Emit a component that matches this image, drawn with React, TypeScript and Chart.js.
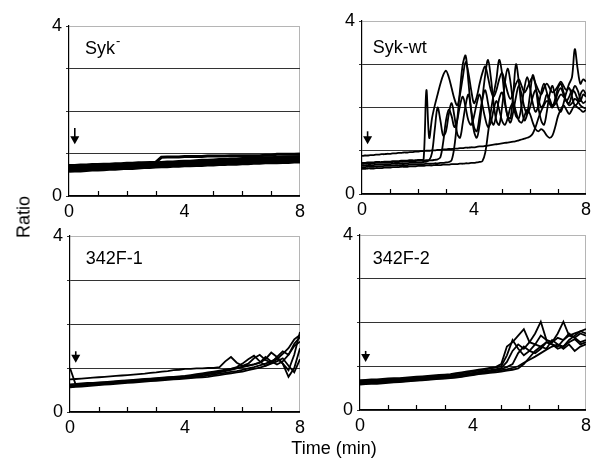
import { useEffect, useRef } from "react";
import { Chart, registerables } from "chart.js";
Chart.register(...registerables);

// ---------- data ----------
const T_FINE = [0,0.1,0.2,0.3,0.4,0.5,0.6,0.7,0.8,0.9,1,1.1,1.2,1.3,1.4,1.5,1.6,1.7,1.8,1.9,2,2.1,2.2,2.3,2.4,2.5,2.6,2.7,2.8,2.9,3,3.1,3.2,3.3,3.4,3.5,3.6,3.7,3.8,3.9,4,4.1,4.2,4.3,4.4,4.5,4.6,4.7,4.8,4.9,5,5.1,5.2,5.3,5.4,5.5,5.6,5.7,5.8,5.9,6,6.1,6.2,6.3,6.4,6.5,6.6,6.7,6.8,6.9,7,7.1,7.2,7.3,7.4,7.5,7.6,7.7,7.8,7.9,8];
const T_COARSE = [0,0.2,0.4,0.6,0.8,1,1.2,1.4,1.6,1.8,2,2.2,2.4,2.6,2.8,3,3.2,3.4,3.6,3.8,4,4.2,4.4,4.6,4.8,5,5.2,5.4,5.6,5.8,6,6.2,6.4,6.6,6.8,7,7.2,7.4,7.6,7.8,8];

// Syk- (coarse grid)
const SYKNEG_A = [0.72,0.72,0.73,0.73,0.74,0.74,0.75,0.75,0.76,0.76,0.77,0.77,0.78,0.78,0.79,0.79,0.91,0.92,0.92,0.92,0.93,0.93,0.93,0.93,0.94,0.94,0.94,0.94,0.95,0.95,0.95,0.95,0.95,0.95,0.96,0.96,0.98,0.98,0.98,0.98,0.99];
const SYKNEG_B = [0.68,0.69,0.69,0.70,0.71,0.71,0.72,0.73,0.73,0.74,0.75,0.75,0.76,0.77,0.77,0.78,0.79,0.80,0.80,0.81,0.82,0.82,0.83,0.84,0.84,0.85,0.86,0.86,0.87,0.87,0.88,0.88,0.89,0.89,0.90,0.90,0.91,0.91,0.92,0.92,0.93];
const SYKNEG_C = [0.64,0.65,0.65,0.66,0.67,0.67,0.68,0.69,0.69,0.70,0.71,0.71,0.72,0.73,0.73,0.74,0.75,0.75,0.76,0.77,0.77,0.78,0.78,0.79,0.79,0.80,0.80,0.81,0.81,0.82,0.82,0.83,0.83,0.84,0.84,0.85,0.85,0.86,0.86,0.87,0.87];
const SYKNEG_D = [0.61,0.62,0.62,0.63,0.64,0.64,0.65,0.66,0.66,0.67,0.68,0.68,0.69,0.70,0.70,0.71,0.72,0.72,0.73,0.73,0.74,0.74,0.75,0.75,0.76,0.76,0.77,0.77,0.78,0.78,0.79,0.79,0.80,0.80,0.81,0.81,0.82,0.82,0.83,0.83,0.84];
const SYKNEG_E = [0.58,0.59,0.59,0.60,0.61,0.61,0.62,0.63,0.63,0.64,0.65,0.65,0.66,0.67,0.67,0.68,0.69,0.69,0.70,0.70,0.71,0.71,0.72,0.72,0.73,0.73,0.74,0.74,0.75,0.75,0.76,0.76,0.77,0.77,0.78,0.78,0.78,0.79,0.79,0.80,0.80];
const SYKNEG_F = [0.66,0.67,0.67,0.68,0.69,0.69,0.70,0.71,0.71,0.72,0.73,0.73,0.74,0.75,0.75,0.76,0.77,0.77,0.78,0.79,0.79,0.80,0.81,0.81,0.82,0.83,0.83,0.84,0.85,0.85,0.86,0.87,0.87,0.88,0.89,0.89,0.90,0.91,0.91,0.92,0.92];

// Syk-wt (fine grid)
const SYKWT_A = [0.88,0.89,0.89,0.90,0.90,0.91,0.91,0.92,0.92,0.93,0.93,0.94,0.94,0.95,0.95,0.96,0.96,0.97,0.97,0.98,0.98,0.99,0.99,1.00,1.00,1.01,1.01,1.02,1.02,1.03,1.03,1.04,1.04,1.05,1.05,1.06,1.06,1.07,1.07,1.08,1.08,1.09,1.10,1.10,1.11,1.12,1.13,1.14,1.15,1.16,1.17,1.18,1.19,1.20,1.21,1.22,1.24,1.26,1.28,1.30,1.33,1.40,1.55,1.75,1.92,2.05,2.15,2.10,2.02,2.08,2.20,2.30,2.25,2.15,2.05,2.10,2.20,2.15,2.05,2.00,1.98];
const SYKWT_B = [0.72,0.72,0.73,0.73,0.73,0.74,0.74,0.74,0.75,0.75,0.75,0.76,0.76,0.76,0.77,0.77,0.77,0.78,0.78,0.78,0.79,0.79,0.80,2.40,1.30,1.75,2.05,2.30,2.55,2.75,2.85,2.70,2.45,2.20,2.05,2.30,2.70,3.05,2.80,2.40,2.10,2.25,2.55,2.80,2.95,2.70,2.40,2.25,2.40,2.65,2.80,2.60,2.35,2.20,2.35,2.55,2.65,2.50,2.35,2.45,2.60,2.70,2.55,2.40,2.30,2.45,2.55,2.45,2.35,2.40,2.50,2.60,2.50,2.40,2.55,2.70,3.35,2.90,2.55,2.65,2.60];
const SYKWT_C = [0.66,0.66,0.67,0.67,0.67,0.68,0.68,0.68,0.69,0.69,0.69,0.70,0.70,0.70,0.71,0.71,0.71,0.72,0.72,0.72,0.73,0.73,0.74,0.75,0.78,0.95,1.50,2.00,1.70,1.35,1.45,1.85,2.10,1.80,1.40,1.30,1.65,2.05,2.30,1.95,1.55,1.45,1.80,2.20,2.40,2.10,1.75,1.60,1.85,2.20,2.35,2.10,1.80,1.65,1.90,2.25,2.50,2.30,2.00,1.85,2.00,2.25,2.40,2.20,2.00,2.10,2.30,2.20,2.05,2.15,2.35,2.45,2.30,2.15,2.25,2.40,2.35,2.20,2.15,2.30,2.25];
const SYKWT_D = [0.62,0.62,0.63,0.63,0.63,0.64,0.64,0.64,0.65,0.65,0.65,0.66,0.66,0.66,0.67,0.67,0.67,0.68,0.68,0.68,0.69,0.69,0.69,0.70,0.70,0.70,0.71,0.71,0.72,0.72,0.73,0.74,0.78,1.10,1.70,2.40,3.00,3.20,2.60,1.90,1.45,1.30,1.60,2.20,2.75,3.10,2.70,2.10,1.70,1.60,2.00,2.55,2.90,2.60,2.10,1.80,1.75,2.05,2.45,2.70,2.45,2.10,1.90,2.05,2.35,2.55,2.35,2.10,2.00,2.20,2.45,2.55,2.35,2.15,2.10,2.30,2.50,2.40,2.20,2.10,2.15];
const SYKWT_E = [0.58,0.58,0.59,0.59,0.59,0.60,0.60,0.60,0.61,0.61,0.61,0.62,0.62,0.62,0.63,0.63,0.63,0.64,0.64,0.64,0.65,0.65,0.65,0.66,0.66,0.66,0.67,0.67,0.67,0.68,0.68,0.68,0.69,0.69,0.69,0.70,0.70,0.71,0.71,0.72,0.72,0.73,0.74,0.76,0.95,1.40,1.90,2.30,2.65,3.10,2.80,2.20,1.80,1.75,2.30,3.00,2.60,2.00,1.70,1.85,2.30,2.75,2.50,2.00,1.70,1.60,1.90,2.30,2.50,2.25,2.00,1.90,2.10,2.35,2.45,2.25,2.05,2.10,2.30,2.40,2.30];
const SYKWT_F = [0.70,0.70,0.71,0.71,0.71,0.72,0.72,0.72,0.73,0.73,0.73,0.74,0.74,0.74,0.75,0.75,0.75,0.76,0.76,0.76,0.77,0.77,0.77,0.78,0.78,0.78,0.79,0.80,0.85,1.20,1.70,1.95,1.80,1.55,1.70,2.05,2.25,2.00,1.70,1.60,1.80,2.10,2.30,2.05,1.75,1.55,1.65,1.95,2.15,1.95,1.70,1.60,1.75,2.00,2.10,1.90,1.70,1.65,1.80,1.95,1.85,1.65,1.50,1.45,1.50,1.45,1.35,1.30,1.35,1.55,1.80,1.95,2.05,1.95,1.85,1.95,2.05,2.00,1.95,1.90,1.95];

// 342F-1 (coarse grid)
const F1_A = [0.74,0.75,0.76,0.77,0.78,0.79,0.80,0.81,0.82,0.83,0.84,0.85,0.86,0.87,0.89,0.90,0.92,0.93,0.95,0.96,0.98,0.98,0.99,0.99,1.00,1.00,1.02,1.15,1.25,1.12,1.05,1.10,1.22,1.30,1.18,1.12,1.20,1.32,1.45,1.65,1.75];
const F1_B = [1.00,0.62,0.63,0.64,0.65,0.66,0.67,0.68,0.69,0.70,0.71,0.72,0.73,0.74,0.75,0.76,0.77,0.78,0.79,0.80,0.81,0.82,0.84,0.86,0.88,0.90,0.92,0.95,0.98,1.02,1.10,1.20,1.28,1.15,1.05,1.12,1.25,1.38,1.30,1.50,1.60];
const F1_C = [0.60,0.61,0.62,0.63,0.64,0.65,0.66,0.67,0.68,0.69,0.70,0.71,0.72,0.73,0.74,0.75,0.76,0.77,0.78,0.79,0.80,0.81,0.82,0.84,0.86,0.88,0.90,0.93,0.96,0.99,1.02,1.05,1.08,1.12,1.20,1.35,1.25,1.10,0.95,1.30,1.82];
const F1_D = [0.58,0.59,0.60,0.61,0.62,0.63,0.64,0.65,0.66,0.67,0.68,0.69,0.70,0.71,0.72,0.73,0.74,0.75,0.76,0.77,0.78,0.79,0.80,0.81,0.83,0.85,0.87,0.89,0.91,0.93,0.96,0.99,1.02,1.06,1.10,1.15,1.22,1.10,0.80,1.00,1.45];
const F1_E = [0.63,0.64,0.65,0.66,0.66,0.67,0.68,0.69,0.70,0.71,0.72,0.73,0.74,0.75,0.76,0.77,0.78,0.79,0.80,0.81,0.82,0.84,0.86,0.88,0.90,0.92,0.94,0.96,0.98,1.00,1.03,1.06,1.08,1.12,1.25,1.15,1.08,1.15,1.30,1.55,1.70];
const F1_F = [0.56,0.57,0.58,0.59,0.60,0.61,0.62,0.63,0.64,0.65,0.66,0.67,0.68,0.69,0.70,0.71,0.72,0.73,0.74,0.75,0.76,0.77,0.78,0.79,0.80,0.82,0.84,0.86,0.88,0.90,0.92,0.95,0.98,1.01,1.05,1.10,1.15,1.22,1.05,0.90,1.20];

// 342F-2 (coarse grid)
const F2_A = [0.68,0.69,0.70,0.70,0.71,0.72,0.73,0.73,0.74,0.75,0.76,0.77,0.78,0.79,0.80,0.81,0.82,0.84,0.86,0.88,0.90,0.92,0.94,0.96,0.98,1.05,1.45,1.55,1.70,1.85,1.55,1.50,1.70,1.60,1.55,1.75,2.02,1.70,1.65,1.75,1.70];
const F2_B = [0.64,0.65,0.66,0.66,0.67,0.68,0.69,0.69,0.70,0.71,0.72,0.73,0.74,0.75,0.76,0.77,0.78,0.79,0.81,0.83,0.85,0.87,0.89,0.91,0.93,0.96,1.10,1.35,1.50,1.40,1.55,1.75,2.02,1.60,1.55,1.65,1.60,1.70,1.75,1.80,1.85];
const F2_C = [0.62,0.63,0.64,0.64,0.65,0.66,0.67,0.67,0.68,0.69,0.70,0.71,0.72,0.73,0.74,0.75,0.76,0.77,0.79,0.81,0.83,0.85,0.87,0.89,0.91,0.94,0.98,1.05,1.30,1.45,1.35,1.30,1.40,1.55,1.50,1.45,1.60,1.75,1.65,1.55,1.60];
const F2_D = [0.60,0.61,0.62,0.62,0.63,0.64,0.65,0.65,0.66,0.67,0.68,0.69,0.70,0.71,0.72,0.73,0.74,0.75,0.77,0.79,0.81,0.83,0.85,0.87,0.89,0.91,0.93,0.96,1.00,1.08,1.15,1.22,1.30,1.38,1.45,1.50,1.45,1.55,1.62,1.50,1.55];
const F2_E = [0.58,0.59,0.60,0.60,0.61,0.62,0.63,0.64,0.65,0.66,0.67,0.68,0.69,0.70,0.71,0.72,0.73,0.74,0.76,0.78,0.80,0.82,0.83,0.85,0.86,0.88,0.90,0.92,0.95,1.05,1.20,1.35,1.45,1.55,1.50,1.40,1.45,1.60,1.70,1.80,1.75];
const F2_F = [0.66,0.67,0.67,0.68,0.69,0.70,0.71,0.71,0.72,0.73,0.74,0.75,0.76,0.77,0.78,0.79,0.80,0.82,0.84,0.86,0.88,0.90,0.92,0.95,0.97,1.00,1.25,1.60,1.40,1.25,1.35,1.50,1.45,1.40,1.60,1.50,1.40,1.50,1.35,1.45,1.50];

const X_TICKS = [0, 4, 8];
const X_MINOR = [1, 2, 3, 5, 6, 7];
const Y_GRID = [0, 1, 2, 3, 4];
const Y_LABELED = [0, 4];
const STIMULUS_T = 0.2; // arrow marks stimulation time

// ---------- layout ----------
const FONT = '"Liberation Sans", Arial, Helvetica, sans-serif';

type PanelCfg = {
  title: string;
  sup?: string;
  times: number[];
  series: number[][];
  box: { left: number; top: number; width: number; height: number };
  plot: { left: number; top: number; right: number; bottom: number };
  arrow: { top: number; tip: number };
  label: { x: number; y: number };
  lw: number;
  tension: number;
};

const PANELS: PanelCfg[] = [
  {
    title: "Syk", sup: "-", times: T_COARSE,
    series: [SYKNEG_A, SYKNEG_B, SYKNEG_C, SYKNEG_D, SYKNEG_E, SYKNEG_F],
    box: { left: 0, top: 8, width: 310, height: 222 },
    plot: { left: 69, top: 26, right: 300, bottom: 196 },
    arrow: { top: 1.6, tip: 1.22 }, label: { x: 0.55, y: 3.45 }, lw: 3, tension: 0,
  },
  {
    title: "Syk-wt", times: T_FINE,
    series: [SYKWT_A, SYKWT_B, SYKWT_C, SYKWT_D, SYKWT_E, SYKWT_F],
    box: { left: 300, top: 3, width: 296, height: 227 },
    plot: { left: 362, top: 21, right: 591, bottom: 194 },
    arrow: { top: 1.45, tip: 1.15 }, label: { x: 0.38, y: 3.38 }, lw: 1.8, tension: 0.35,
  },
  {
    title: "342F-1", times: T_COARSE,
    series: [F1_A, F1_B, F1_C, F1_D, F1_E, F1_F],
    box: { left: 0, top: 218, width: 310, height: 222 },
    plot: { left: 70, top: 236, right: 302, bottom: 412 },
    arrow: { top: 1.38, tip: 1.12 }, label: { x: 0.55, y: 3.47 }, lw: 1.8, tension: 0,
  },
  {
    title: "342F-2", times: T_COARSE,
    series: [F2_A, F2_B, F2_C, F2_D, F2_E, F2_F],
    box: { left: 300, top: 217, width: 296, height: 223 },
    plot: { left: 360, top: 235, right: 591, bottom: 410 },
    arrow: { top: 1.35, tip: 1.1 }, label: { x: 0.45, y: 3.45 }, lw: 1.8, tension: 0,
  },
];

function Panel({ cfg }: { cfg: PanelCfg }) {
  const ref = useRef<HTMLCanvasElement | null>(null);
  useEffect(() => {
    if (!ref.current) return;
    const { box, plot } = cfg;
    const decor = {
      id: "decor",
      afterDatasetsDraw(chart: any) {
        const { ctx, chartArea } = chart;
        const xs = chart.scales.x;
        const ys = chart.scales.y;
        ctx.save();
        // inward minor ticks on x axis
        ctx.strokeStyle = "#000";
        ctx.lineWidth = 1.2;
        for (const v of X_MINOR) {
          const px = Math.round(xs.getPixelForValue(v)) + 0.5;
          ctx.beginPath();
          ctx.moveTo(px, chartArea.bottom);
          ctx.lineTo(px, chartArea.bottom - 5);
          ctx.stroke();
        }
        // stimulus arrow
        const ax = xs.getPixelForValue(STIMULUS_T);
        const ay0 = ys.getPixelForValue(cfg.arrow.top);
        const ay1 = ys.getPixelForValue(cfg.arrow.tip);
        ctx.lineWidth = 1.6;
        ctx.beginPath();
        ctx.moveTo(ax, ay0);
        ctx.lineTo(ax, ay1 - 7);
        ctx.stroke();
        ctx.fillStyle = "#000";
        ctx.beginPath();
        ctx.moveTo(ax - 4.5, ay1 - 8);
        ctx.lineTo(ax + 4.5, ay1 - 8);
        ctx.lineTo(ax, ay1);
        ctx.closePath();
        ctx.fill();
        // panel title
        ctx.font = `18px ${FONT}`;
        ctx.textBaseline = "middle";
        ctx.textAlign = "left";
        const lx = xs.getPixelForValue(cfg.label.x);
        const ly = ys.getPixelForValue(cfg.label.y);
        ctx.fillText(cfg.title, lx, ly);
        if (cfg.sup) {
          const w = ctx.measureText(cfg.title).width;
          ctx.font = `13px ${FONT}`;
          ctx.fillText(cfg.sup, lx + w + 1, ly - 8);
        }
        ctx.restore();
      },
    };
    const chart = new Chart(ref.current, {
      type: "line",
      data: {
        datasets: cfg.series.map((vals) => ({
          data: vals.map((v, i) => ({ x: cfg.times[i], y: v })),
          borderColor: "#000",
          borderWidth: cfg.lw,
          pointRadius: 0,
          tension: cfg.tension,
          fill: false,
        })),
      },
      options: {
        animation: false,
        responsive: false,
        events: [],
        layout: {
          padding: { top: plot.top - box.top, right: box.left + box.width - plot.right, left: 0, bottom: 0 },
        },
        plugins: { legend: { display: false }, tooltip: { enabled: false } },
        scales: {
          x: {
            type: "linear",
            min: 0,
            max: 8,
            afterBuildTicks: (s: any) => { s.ticks = X_TICKS.map((v) => ({ value: v })); },
            afterFit: (s: any) => { s.height = box.top + box.height - plot.bottom; },
            ticks: {
              color: "#000",
              padding: 5,
              font: { family: FONT, size: 18 },
              callback: (v: any) => String(v),
            },
            grid: {
              drawTicks: false,
              color: (c: any) => (c.tick && c.tick.value === 8 ? "#b5b5b5" : "rgba(0,0,0,0)"),
              lineWidth: 1,
            },
            border: { color: "#000", width: 1.2 },
          },
          y: {
            type: "linear",
            min: 0,
            max: 4,
            afterBuildTicks: (s: any) => { s.ticks = Y_GRID.map((v) => ({ value: v })); },
            afterFit: (s: any) => { s.width = plot.left - box.left; },
            ticks: {
              color: "#000",
              padding: 4,
              font: { family: FONT, size: 18 },
              callback: (v: any) => (Y_LABELED.includes(v) ? String(v) : ""),
            },
            grid: {
              drawTicks: true,
              tickLength: 3,
              color: (c: any) => (c.tick && c.tick.value === 4 ? "#b5b5b5" : "#333"),
              tickColor: "#333",
              lineWidth: 1,
            },
            border: { color: "#000", width: 1.2 },
          },
        },
      },
      plugins: [decor],
    });
    return () => chart.destroy();
  }, [cfg]);
  const { box } = cfg;
  return (
    <canvas
      ref={ref}
      width={box.width}
      height={box.height}
      style={{ position: "absolute", left: box.left, top: box.top, width: box.width, height: box.height }}
    />
  );
}

export default function App() {
  return (
    <div style={{ position: "absolute", left: 0, top: 0, width: 596, height: 463, background: "#fff", overflow: "hidden" }}>
      {PANELS.map((p, i) => (
        <Panel key={i} cfg={p} />
      ))}
      <div
        style={{
          position: "absolute", left: 24, top: 217, transform: "translate(-50%, -50%) rotate(-90deg)",
          fontFamily: FONT, fontSize: 18, color: "#000", whiteSpace: "nowrap",
        }}
      >
        Ratio
      </div>
      <div
        style={{
          position: "absolute", left: 334, top: 448, transform: "translate(-50%, -50%)",
          fontFamily: FONT, fontSize: 18, color: "#000", whiteSpace: "nowrap",
        }}
      >
        Time (min)
      </div>
    </div>
  );
}
